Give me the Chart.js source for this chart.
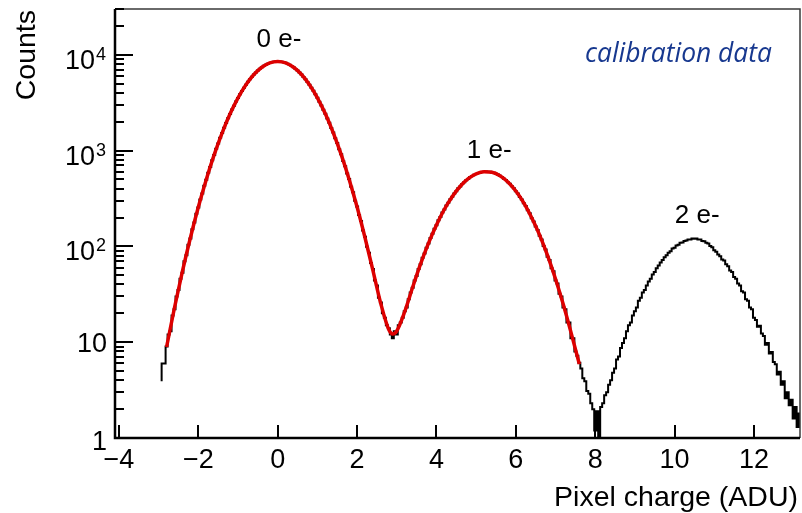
<!DOCTYPE html>
<html>
<head>
<meta charset="utf-8">
<title>Pixel charge</title>
<script src="https://cdn.jsdelivr.net/npm/chart.js@4/dist/chart.umd.min.js"></script>
<style>
  html, body { margin: 0; padding: 0; background: #fff; }
  #canvas-wrapper { width: 802px; height: 513px; }
</style>
</head>
<body>
<div id="canvas-wrapper"><canvas id="charge" width="802" height="513"></canvas></div>
<script>
// histogram binning (ADU)
const binStart = -2.95;
const binWidth = 0.05;

// counts per bin, one row per ADU, first bin centred at binStart
const counts = [
  4, 6, 6, 9, 12, 13, 19, 22, 30, 35, 46, 53, 70, 81, 104, 121, 151, 177, 219, 254,
  309, 357, 429, 495, 588, 674, 791, 900, 1046, 1182, 1357, 1524, 1733, 1935, 2178, 2407, 2686, 2942, 3253, 3540,
  3874, 4179, 4532, 4855, 5214, 5537, 5889, 6200, 6539, 6830, 7134, 7387, 7649, 7861, 8064, 8213, 8349, 8424, 8499, 8502,
  8497, 8442, 8331, 8230, 8046, 7879, 7631, 7405, 7116, 6848, 6521, 6218, 5871, 5555, 5196, 4873, 4514, 4197, 3856, 3557,
  3235, 2960, 2668, 2424, 2161, 1950, 1717, 1540, 1341, 1196, 1033, 913, 778, 686, 577, 506, 419, 366, 300, 261,
  212, 184, 146, 126, 99, 86, 67, 58, 44, 39, 29, 26, 20, 18, 15, 14, 12, 11, 13, 12,
  15, 16, 18, 21, 23, 28, 33, 37, 44, 49, 58, 65, 76, 84, 97, 107, 122, 135, 153, 166,
  187, 203, 225, 243, 267, 285, 311, 330, 357, 376, 403, 422, 448, 466, 490, 506, 528, 541, 559, 568,
  583, 588, 598, 599, 605, 599, 600, 591, 586, 572, 563, 544, 531, 509, 493, 468, 450, 423, 404, 376,
  356, 328, 309, 282, 264, 238, 221, 197, 182, 161, 148, 129, 118, 101, 93, 78, 72, 59, 55, 44,
  41, 32, 30, 23, 22, 16, 16, 11, 11, 8, 7.2, 6.1, 5.3, 4.2, 3.9, 3.1, 2.9, 2.3, 2.0, 1.2,
  1.9, 1.0, 2.1, 2.3, 2.8, 3.0, 3.6, 4.0, 4.8, 5.3, 6.6, 7.1, 8.7, 9.8, 11, 13, 15, 16, 19, 21,
  23, 27, 29, 33, 35, 39, 43, 46, 51, 54, 59, 63, 68, 72, 77, 81, 86, 89, 95, 97,
  102, 104, 109, 110, 114, 115, 118, 118, 121, 120, 121, 118, 118, 114, 113, 109, 107, 101, 98, 91,
  88, 82, 79, 73, 71, 65, 62, 56, 54, 48, 46, 41, 39, 34, 33, 28, 27, 23, 22, 18,
  17, 14.5, 14.8, 12.3, 11.6, 9.4, 9.8, 7.6, 7.9, 6.2, 5.9, 4.6, 4.9, 3.6, 3.9, 2.6, 3.0, 2.2, 2.5, 1.6,
  2.1, 1.3, 1.8
];

// 0 e- + 1 e- fit
const fitX = [
  -2.8, -2.6, -2.4, -2.2, -2.0, -1.8, -1.6, -1.4, -1.2, -1.0,
  -0.8, -0.6, -0.4, -0.2, 0.0, 0.2, 0.4, 0.6, 0.8, 1.0,
  1.2, 1.4, 1.6, 1.8, 2.0, 2.2, 2.4, 2.6, 2.8, 2.9,
  3.0, 3.2, 3.4, 3.6, 3.8, 4.0, 4.2, 4.4, 4.6, 4.8,
  5.0, 5.2, 5.4, 5.6, 5.8, 6.0, 6.2, 6.4, 6.6, 6.8,
  7.0, 7.2, 7.4, 7.6
];
const fitY = [
  8.9, 23.0, 55.1, 123, 257, 500, 906, 1531, 2415, 3548,
  4864, 6209, 7396, 8222, 8511, 8222, 7396, 6209, 4864, 3548,
  2415, 1531, 906, 500, 257, 123, 55.9, 25.0, 13.5, 12.2,
  13.1, 20.8, 37.4, 65.5, 108, 167, 244, 332, 424, 508,
  570, 601, 593, 546, 470, 378, 284, 199, 131, 80,
  45.7, 24.4, 12.2, 5.9
];

// axis ticks
const xTicks = [-4, -2, 0, 2, 4, 6, 8, 10, 12];
const yDecades = [1, 10, 100, 1000, 10000];
const yBase = ['1', '10', '10', '10', '10'];
const yExp = ['', '', '2', '3', '4'];

// peak labels
const peakLabels = ['0 e-', '1 e-', '2 e-'];
const peakLabelX = [0.03, 5.33, 10.57];
const peakLabelY = [12100, 830, 177];

const histPoints = counts.map((c, i) => ({ x: binStart + i * binWidth, y: c }));
const fitPoints = fitX.map((x, i) => ({ x: x, y: fitY[i] }));

const FONT = '"Liberation Sans", Arial, Helvetica, sans-serif';

const rootAxes = {
  id: 'rootAxes',
  beforeDatasetsDraw(chart) {
    const { ctx, chartArea: a, scales: { x, y } } = chart;
    ctx.save();
    // thin frame on top and right
    ctx.strokeStyle = '#3a3a3a';
    ctx.lineWidth = 1.5;
    ctx.beginPath();
    ctx.moveTo(a.left, a.top);
    ctx.lineTo(a.right, a.top);
    ctx.lineTo(a.right, a.bottom);
    ctx.stroke();

    // inward ticks
    ctx.strokeStyle = '#000';
    ctx.lineWidth = 2;
    ctx.beginPath();
    xTicks.forEach(t => {
      const px = Math.round(x.getPixelForValue(t));
      ctx.moveTo(px, a.bottom);
      ctx.lineTo(px, a.bottom - 13);
    });
    yDecades.forEach(d => {
      for (let m = 1; m <= 9; m++) {
        const v = m * d;
        if (v > y.max) break;
        const py = Math.round(y.getPixelForValue(v));
        ctx.moveTo(a.left, py);
        ctx.lineTo(a.left + (m === 1 ? 18 : 9), py);
      }
    });
    ctx.stroke();
    ctx.restore();
  },
  afterDatasetsDraw(chart) {
    const { ctx, chartArea: a, scales: { x, y } } = chart;
    ctx.save();
    ctx.strokeStyle = '#000';
    ctx.lineWidth = 2.5;
    ctx.beginPath();
    ctx.moveTo(a.left, a.top);
    ctx.lineTo(a.left, a.bottom);
    ctx.lineTo(a.right, a.bottom);
    ctx.stroke();

    ctx.fillStyle = '#000';
    // x tick labels
    ctx.font = '27px ' + FONT;
    ctx.textAlign = 'center';
    ctx.textBaseline = 'alphabetic';
    xTicks.forEach(t => {
      const s = t < 0 ? '\u2212' + Math.abs(t) : String(t);
      ctx.fillText(s, x.getPixelForValue(t), a.bottom + 30);
    });

    // y tick labels, 10^n with raised exponent
    const right = a.left - 9;
    yDecades.forEach((d, i) => {
      const py = y.getPixelForValue(d);
      ctx.textAlign = 'right';
      if (yExp[i]) {
        ctx.font = '18px ' + FONT;
        const we = ctx.measureText(yExp[i]).width;
        ctx.fillText(yExp[i], right, py + 5);
        ctx.font = '27px ' + FONT;
        ctx.fillText(yBase[i], right - we - 1, py + 14);
      } else {
        ctx.font = '27px ' + FONT;
        ctx.fillText(yBase[i], right + 1, py + (d === 1 ? 12 : 10));
      }
    });

    // axis titles
    ctx.font = '28.5px ' + FONT;
    ctx.textAlign = 'right';
    ctx.fillText('Pixel charge (ADU)', 798, 506);
    ctx.save();
    ctx.translate(35, 10);
    ctx.rotate(-Math.PI / 2);
    ctx.fillText('Counts', 0, 0);
    ctx.restore();

    // peak labels
    ctx.font = '26px ' + FONT;
    ctx.textAlign = 'center';
    peakLabels.forEach((t, i) => {
      ctx.fillText(t, x.getPixelForValue(peakLabelX[i]), y.getPixelForValue(peakLabelY[i]));
    });

    // dataset note
    ctx.fillStyle = '#17388f';
    ctx.textAlign = 'left';
    ctx.font = 'italic 24px "Open Sans", sans-serif';
    const w = ctx.measureText('calibration data').width;
    const size = 24 * 187 / w;
    ctx.font = 'italic ' + size.toFixed(1) + 'px "Open Sans", sans-serif';
    ctx.fillText('calibration data', 585, 62);
    ctx.restore();
  }
};

const config = {
  type: 'line',
  data: {
    datasets: [
      {
        label: 'fit',
        data: fitPoints,
        borderColor: '#dd0000',
        borderWidth: 3.5,
        pointRadius: 0,
        cubicInterpolationMode: 'monotone',
        borderJoinStyle: 'round',
        order: 0
      },
      {
        label: 'data',
        data: histPoints,
        borderColor: '#000',
        borderWidth: 2,
        pointRadius: 0,
        stepped: 'middle',
        order: 1
      }
    ]
  },
  options: {
    responsive: false,
    devicePixelRatio: 1,
    animation: false,
    layout: { padding: { left: 115, top: 9, right: 2, bottom: 75 } },
    plugins: {
      legend: { display: false },
      tooltip: { enabled: false }
    },
    scales: {
      x: { type: 'linear', display: false, min: -4.1, max: 13.16 },
      y: { type: 'logarithmic', display: false, min: 1, max: 30000 }
    }
  },
  plugins: [rootAxes]
};

new Chart(document.getElementById('charge'), config);
</script>
</body>
</html>
